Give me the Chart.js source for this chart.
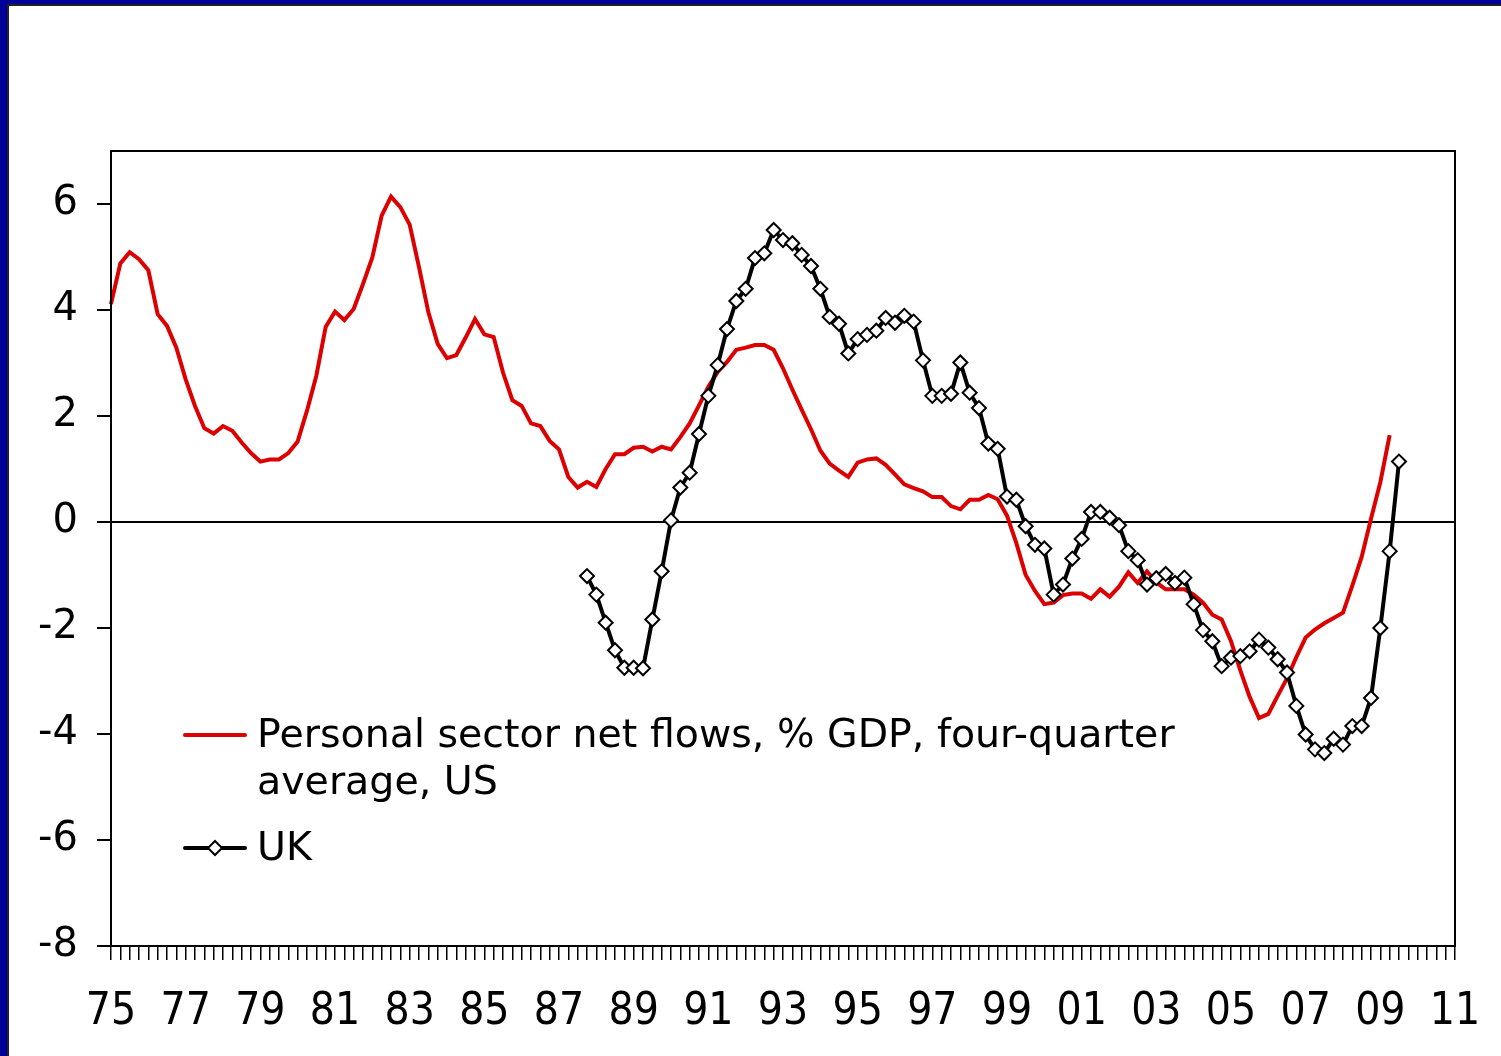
<!DOCTYPE html>
<html>
<head>
<meta charset="utf-8">
<script src="https://cdn.jsdelivr.net/npm/chart.js@4"></script>
<style>
  body { margin: 0; background: #fff; }
  #wrap { position: relative; width: 1501px; height: 1056px; background: #000099; overflow: hidden; }
  #paper { position: absolute; left: 7px; top: 4px; right: 0; bottom: 0; background: #fff;
           border-left: 2px solid #222; border-top: 2px solid #222; }
  #c { position: absolute; left: 0; top: 0; }
</style>
</head>
<body>
<div id="wrap">
  <div id="paper"></div>
  <canvas id="c" width="1501" height="1056"></canvas>
</div>
<script>
// quarterly categories, 1975Q1 .. 2011Q1
const quarters = [];
for (let yr = 1975; yr <= 2011; yr++) {
  for (let q = 1; q <= 4; q++) {
    if (yr === 2011 && q > 1) break;
    quarters.push(yr + 'Q' + q);
  }
}

// US personal sector net flows, % GDP, four-quarter average (1975Q1 .. 2009Q2)
const usValues = [
  4.11, 4.88, 5.09, 4.96, 4.75, 3.92, 3.70, 3.29,
  2.69, 2.19, 1.77, 1.67, 1.81, 1.72, 1.50, 1.30,
  1.14, 1.18, 1.18, 1.30, 1.52, 2.10, 2.76, 3.68,
  3.97, 3.81, 4.02, 4.49, 4.99, 5.78, 6.14, 5.94,
  5.61, 4.81, 3.96, 3.36, 3.09, 3.15, 3.48, 3.83,
  3.54, 3.49, 2.82, 2.30, 2.19, 1.86, 1.81, 1.53,
  1.37, 0.85, 0.65, 0.76, 0.66, 1.00, 1.28, 1.28,
  1.40, 1.42, 1.33, 1.42, 1.37, 1.60, 1.86, 2.20,
  2.55, 2.83, 3.02, 3.25, 3.29, 3.34, 3.34, 3.25,
  2.90, 2.50, 2.12, 1.75, 1.35, 1.10, 0.97, 0.85,
  1.12, 1.18, 1.20, 1.08, 0.90, 0.71, 0.64, 0.58,
  0.47, 0.47, 0.30, 0.24, 0.42, 0.42, 0.51, 0.43,
  0.12, -0.40, -1.00, -1.30, -1.55, -1.52, -1.38, -1.35,
  -1.35, -1.45, -1.27, -1.41, -1.22, -0.95, -1.15, -0.93,
  -1.14, -1.27, -1.27, -1.27, -1.37, -1.52, -1.75, -1.84,
  -2.25, -2.80, -3.30, -3.70, -3.62, -3.28, -2.95, -2.55,
  -2.18, -2.03, -1.91, -1.81, -1.71, -1.20, -0.66, 0.06,
  0.75, 1.64
];

// UK (1987Q4 .. 2009Q3)
const ukFirstQuarter = '1987Q4';
const ukValues = [
  -1.02, -1.37, -1.90, -2.42, -2.75, -2.75, -2.76, -1.84,
  -0.93, 0.03, 0.65, 0.93, 1.66, 2.38, 2.96, 3.64,
  4.17, 4.40, 4.98, 5.07, 5.51, 5.32, 5.26, 5.04,
  4.83, 4.40, 3.87, 3.74, 3.18, 3.45, 3.53, 3.61,
  3.85, 3.76, 3.89, 3.78, 3.05, 2.38, 2.38, 2.42,
  3.01, 2.44, 2.15, 1.48, 1.38, 0.48, 0.42, -0.08,
  -0.43, -0.50, -1.37, -1.18, -0.69, -0.32, 0.19, 0.19,
  0.08, -0.06, -0.55, -0.72, -1.18, -1.06, -0.98, -1.15,
  -1.05, -1.55, -2.04, -2.25, -2.72, -2.56, -2.53, -2.44,
  -2.22, -2.37, -2.59, -2.84, -3.47, -4.01, -4.29, -4.36,
  -4.09, -4.20, -3.85, -3.85, -3.32, -2.00, -0.55, 1.14
];

const usLabel = ['Personal sector net flows, % GDP, four-quarter', 'average, US'];
const ukLabel = ['UK'];

const ukOffset = quarters.indexOf(ukFirstQuarter);
const ukData = quarters.map((q, i) => {
  const j = i - ukOffset;
  return j >= 0 && j < ukValues.length ? ukValues[j] : null;
});

const RED = '#dd0000';

const frame = {
  id: 'frame',
  afterDraw(chart) {
    const { ctx, chartArea: a } = chart;
    ctx.save();
    ctx.strokeStyle = '#000';
    ctx.lineWidth = 2;
    ctx.strokeRect(a.left, a.top, a.right - a.left, a.bottom - a.top);
    ctx.restore();
  }
};

const legendBox = {
  id: 'legendBox',
  afterDraw(chart) {
    const ctx = chart.ctx;
    ctx.save();
    ctx.font = '39.5px "DejaVu Sans"';
    ctx.fillStyle = '#000';
    ctx.textBaseline = 'middle';
    ctx.textAlign = 'left';
    ctx.lineCap = 'round';

    ctx.strokeStyle = RED;
    ctx.lineWidth = 4;
    ctx.beginPath(); ctx.moveTo(185, 735); ctx.lineTo(245, 735); ctx.stroke();
    ctx.fillText(usLabel[0], 257, 737);
    ctx.fillText(usLabel[1], 257, 784);

    ctx.strokeStyle = '#000';
    ctx.beginPath(); ctx.moveTo(185, 848); ctx.lineTo(245, 848); ctx.stroke();
    ctx.lineWidth = 2;
    ctx.fillStyle = '#fff';
    ctx.beginPath();
    ctx.moveTo(215, 841); ctx.lineTo(222, 848); ctx.lineTo(215, 855); ctx.lineTo(208, 848);
    ctx.closePath(); ctx.fill(); ctx.stroke();
    ctx.fillStyle = '#000';
    ctx.fillText(ukLabel[0], 257, 850);
    ctx.restore();
  }
};

new Chart(document.getElementById('c'), {
  type: 'line',
  data: {
    labels: quarters,
    datasets: [
      {
        label: ukLabel[0],
        data: ukData,
        borderColor: '#000',
        borderWidth: 4,
        pointStyle: 'rectRot',
        pointRadius: 7,
        pointBackgroundColor: '#fff',
        pointBorderColor: '#000',
        pointBorderWidth: 2,
        tension: 0,
        order: 0
      },
      {
        label: usLabel.join(' '),
        data: usValues,
        borderColor: RED,
        borderWidth: 4,
        pointRadius: 0,
        tension: 0,
        order: 1
      }
    ]
  },
  options: {
    responsive: false,
    animation: false,
    layout: { padding: { top: 151, right: 46, left: 0, bottom: 0 } },
    plugins: {
      legend: { display: false },
      tooltip: { enabled: false }
    },
    scales: {
      x: {
        type: 'category',
        offset: false,
        afterFit: s => { s.height = 110; s.paddingLeft = 0; s.paddingRight = 0; },
        border: { display: true, color: '#000', width: 2 },
        grid: { drawOnChartArea: false, color: '#000', lineWidth: 1.5, tickLength: 14 },
        ticks: {
          autoSkip: false,
          maxRotation: 0,
          minRotation: 0,
          padding: 26,
          color: '#000',
          font: { family: '"DejaVu Sans Condensed", "DejaVu Sans"', size: 44 },
          callback: (v, i) => (i % 8 === 0 ? quarters[i].slice(2, 4) : '')
        }
      },
      y: {
        min: -8,
        max: 7,
        afterFit: s => { s.width = 111; },
        border: { display: true, color: '#000', width: 2 },
        grid: {
          drawOnChartArea: true,
          color: c => (c.tick && c.tick.value === 0 ? '#000' : 'rgba(0,0,0,0)'),
          tickColor: '#000',
          lineWidth: 2,
          tickLength: 14
        },
        ticks: {
          stepSize: 2,
          padding: 19,
          color: '#000',
          font: { family: '"DejaVu Sans"', size: 40 },
          callback: v => (v === 7 ? null : v)
        }
      }
    }
  },
  plugins: [frame, legendBox]
});
</script>
</body>
</html>
